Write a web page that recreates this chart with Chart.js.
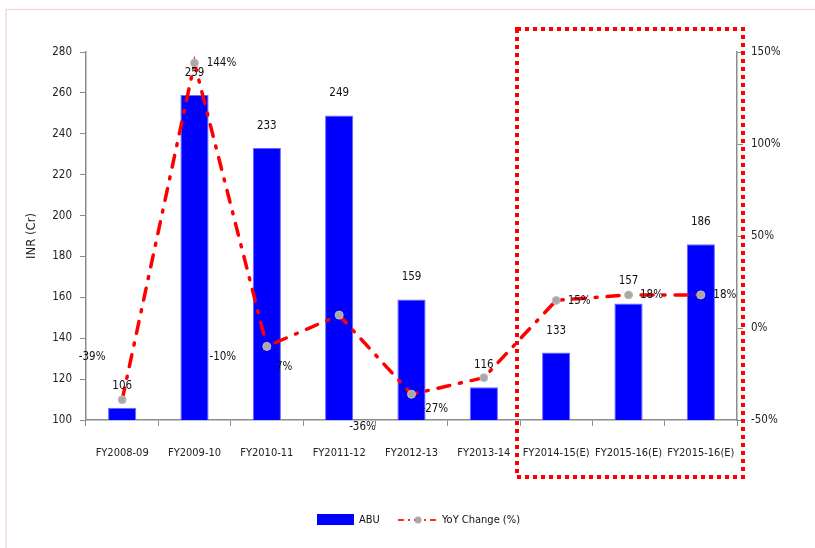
<!DOCTYPE html>
<html lang="en">
<head>
  <meta charset="UTF-8">
  <title>ABU and YoY Change</title>
</head>
<style>
  body { margin: 0; background: #fff; }
  .wrap { width: 815px; height: 548px; }
</style>
<body>
<div class="wrap">
  <canvas id="abuChart" width="815" height="548"></canvas>
</div>

<script src="https://cdn.jsdelivr.net/npm/chart.js"></script>

<script>
  const years = ['FY2008-09', 'FY2009-10', 'FY2010-11', 'FY2011-12', 'FY2012-13',
    'FY2013-14', 'FY2014-15(E)', 'FY2015-16(E)', 'FY2015-16(E)'];
  const abu = [106, 259, 233, 249, 159, 116, 133, 157, 186];
  const yoy = [-39, 144, -10, 7, -36, -27, 15, 18, 18];
  const inrTicks = [100, 120, 140, 160, 180, 200, 220, 240, 260, 280];
  const pctTicks = [-50, 0, 50, 100, 150];

  const FONT = "'DejaVu Sans Condensed', 'DejaVu Sans', sans-serif";

  // where each yoy label sits relative to its point
  const yoyLabelShift = [[-30, -43], [27, 0], [-44, 11], [-55, 52], [-49, 33],
    [-49, 31], [23, 1], [23, 0], [24, 0]];

  const extras = {
    id: 'extras',
    beforeDraw(chart) {
      const ctx = chart.ctx;
      ctx.save();
      ctx.strokeStyle = '#f6dada';
      ctx.lineWidth = 1.5;
      ctx.beginPath();
      ctx.moveTo(6, 548);
      ctx.lineTo(6, 9.5);
      ctx.lineTo(815, 9.5);
      ctx.stroke();
      ctx.restore();
    },
    afterDatasetsDraw(chart) {
      const ctx = chart.ctx;
      ctx.save();
      ctx.font = '11.5px ' + FONT;
      ctx.fillStyle = '#111';
      ctx.textAlign = 'center';
      ctx.textBaseline = 'middle';
      chart.getDatasetMeta(1).data.forEach((bar, i) => {
        ctx.fillText(abu[i], bar.x, bar.y - 22);
      });
      chart.getDatasetMeta(0).data.forEach((pt, i) => {
        const s = yoyLabelShift[i];
        ctx.fillText(yoy[i] + '%', pt.x + s[0], pt.y + s[1]);
      });
      ctx.restore();
    },
    afterDraw(chart) {
      const ctx = chart.ctx;
      const x = chart.scales.x;
      const area = chart.chartArea;
      const left = (x.getPixelForValue(5) + x.getPixelForValue(6)) / 2 - 3;
      ctx.save();
      // dotted box around the estimate years
      ctx.strokeStyle = '#ff0000';
      ctx.lineWidth = 4;
      ctx.setLineDash([4, 4]);
      ctx.strokeRect(left, area.top - 23, area.right + 6 - left, area.bottom + 57 - (area.top - 23));
      ctx.setLineDash([]);

      // legend
      const ly = 520;
      ctx.fillStyle = '#0000ff';
      ctx.fillRect(317, 514, 37, 11);
      ctx.font = '11px ' + FONT;
      ctx.fillStyle = '#111';
      ctx.textBaseline = 'middle';
      ctx.textAlign = 'left';
      ctx.fillText('ABU', 359, ly);
      ctx.strokeStyle = '#ff2a2a';
      ctx.lineWidth = 2;
      ctx.setLineDash([6, 4, 2, 4]);
      ctx.beginPath();
      ctx.moveTo(398, ly);
      ctx.lineTo(438, ly);
      ctx.stroke();
      ctx.setLineDash([]);
      ctx.fillStyle = '#a8a8a8';
      ctx.beginPath();
      ctx.arc(418, ly, 3.5, 0, Math.PI * 2);
      ctx.fill();
      ctx.fillStyle = '#111';
      ctx.fillText('YoY Change (%)', 442, ly);
      ctx.restore();
    }
  };

  const ctx = document.getElementById('abuChart').getContext('2d');
  new Chart(ctx, {
    data: {
      labels: years,
      datasets: [{
        type: 'line',
        label: 'YoY Change (%)',
        data: yoy,
        yAxisID: 'y1',
        order: 0,
        borderColor: '#ff0000',
        borderWidth: 3.5,
        borderDash: [12, 10, 2, 10],
        borderCapStyle: 'round',
        tension: 0,
        pointRadius: 4,
        pointBackgroundColor: '#a8a8a8',
        pointBorderColor: '#c0c0c0',
        pointBorderWidth: 1
      }, {
        type: 'bar',
        label: 'ABU',
        data: abu,
        yAxisID: 'y',
        order: 1,
        backgroundColor: '#0000ff',
        borderColor: '#6b6bff',
        borderWidth: 1,
        categoryPercentage: 1,
        barPercentage: 0.39
      }]
    },
    plugins: [extras],
    options: {
      responsive: false,
      animation: false,
      layout: { padding: { top: 52, left: 0, right: 0, bottom: 0 } },
      plugins: {
        legend: { display: false },
        tooltip: { enabled: false }
      },
      scales: {
        x: {
          offset: true,
          grid: { offset: true, drawOnChartArea: false, drawTicks: true, tickLength: 6, color: '#8c8c8c' },
          border: { color: '#8c8c8c', width: 1.5 },
          ticks: { padding: 21, maxRotation: 0, autoSkip: false, color: '#222', font: { family: FONT, size: 11 } },
          afterFit(scale) { scale.height = 128; }
        },
        y: {
          position: 'left',
          min: 100,
          max: 280,
          afterBuildTicks(scale) { scale.ticks = inrTicks.map(v => ({ value: v })); },
          grid: { drawOnChartArea: false, drawTicks: true, tickLength: 6, color: '#8c8c8c' },
          border: { color: '#8c8c8c', width: 1.5 },
          ticks: { padding: 8, color: '#222', font: { family: FONT, size: 11.5 } },
          title: { display: true, text: 'INR (Cr)', color: '#222', padding: { top: 24, bottom: 0 }, font: { family: FONT, size: 13 } },
          afterFit(scale) { scale.width = 86; }
        },
        y1: {
          position: 'right',
          min: -50,
          max: 150,
          afterBuildTicks(scale) { scale.ticks = pctTicks.map(v => ({ value: v })); },
          grid: { drawOnChartArea: false, drawTicks: true, tickLength: 6, color: '#8c8c8c' },
          border: { color: '#8c8c8c', width: 1.5 },
          ticks: { padding: 8, color: '#222', font: { family: FONT, size: 11.5 }, callback: v => v + '%' },
          afterFit(scale) { scale.width = 78; }
        }
      }
    }
  });
</script>
</body>
</html>
